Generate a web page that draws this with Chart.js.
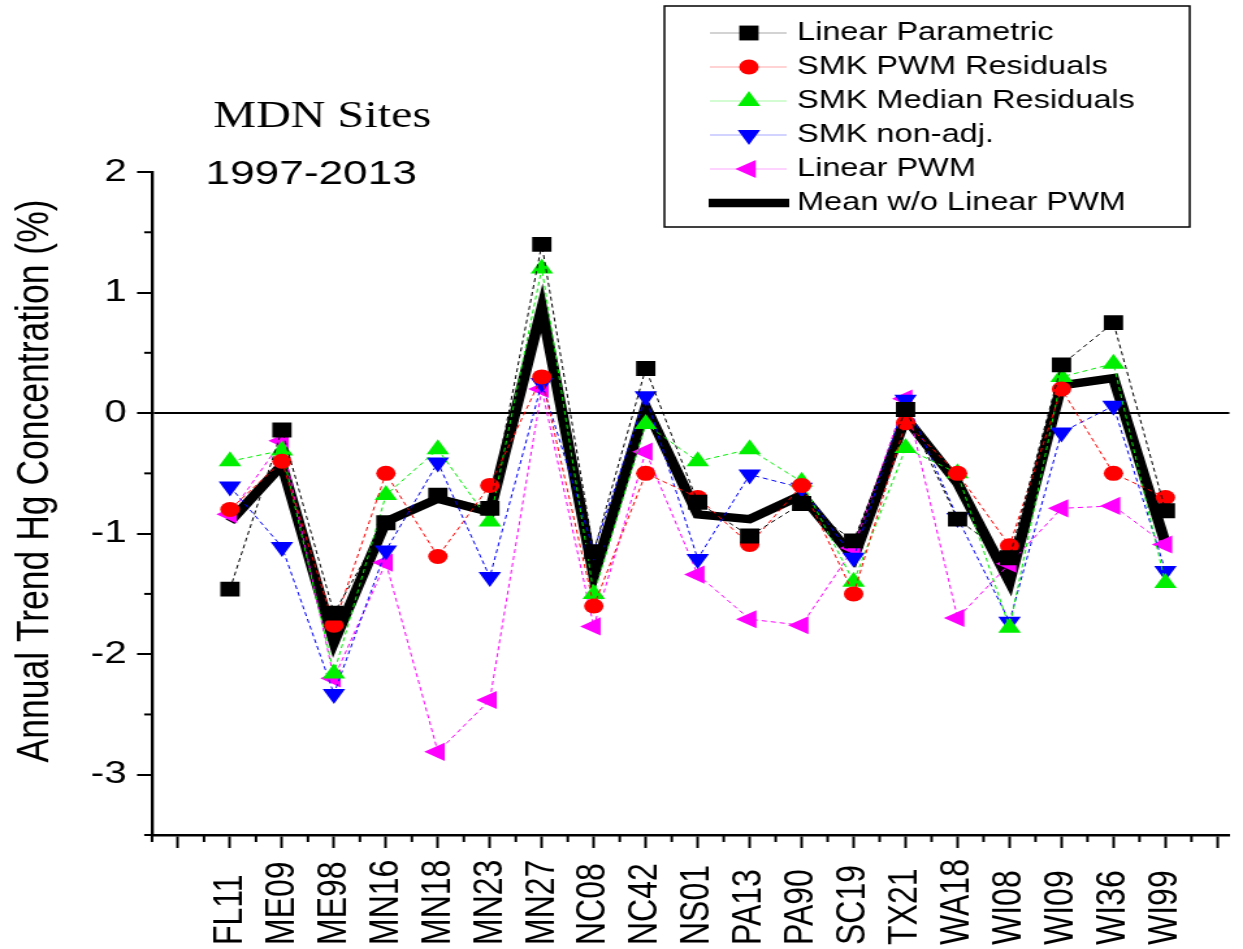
<!DOCTYPE html>
<html>
<head>
<meta charset="utf-8">
<title>MDN Sites 1997-2013</title>
<script src="https://cdn.jsdelivr.net/npm/chart.js@4.4.1/dist/chart.umd.min.js"></script>
<style>
  html, body { margin: 0; padding: 0; background: #fff; }
  #wrap { width: 1243px; height: 949px; overflow: hidden; }
</style>
</head>
<body>
<div id="wrap"><canvas id="chart" style="width:1243px;height:949px"></canvas></div>
<script>
// ===== DADOS =====
const sites = ['FL11', 'ME09', 'ME98', 'MN16', 'MN18', 'MN23', 'MN27', 'NC08', 'NC42', 'NS01',
               'PA13', 'PA90', 'SC19', 'TX21', 'WA18', 'WI08', 'WI09', 'WI36', 'WI99'];

const linearParametric   = [-1.46, -0.14, -1.66, -0.91, -0.68, -0.79, 1.40, -1.15, 0.37, -0.74,
                            -1.02, -0.75, -1.06, 0.03, -0.88, -1.20, 0.40, 0.75, -0.81];
const smkPwmResiduals    = [-0.80, -0.40, -1.76, -0.50, -1.19, -0.60, 0.30, -1.60, -0.50, -0.70,
                            -1.09, -0.60, -1.50, -0.08, -0.50, -1.10, 0.20, -0.50, -0.70];
const smkMedianResiduals = [-0.40, -0.31, -2.16, -0.68, -0.30, -0.90, 1.20, -1.50, -0.09, -0.40,
                            -0.30, -0.57, -1.40, -0.29, -0.50, -1.78, 0.30, 0.41, -1.41];
const smkNonAdj          = [-0.61, -1.11, -2.33, -1.14, -0.41, -1.36, 0.25, -1.14, 0.14, -1.21,
                            -0.51, -0.62, -1.20, 0.11, -0.87, -1.73, -0.16, 0.06, -1.31];
const linearPwm          = [-0.84, -0.23, -2.20, -1.24, -2.81, -2.38, 0.20, -1.77, -0.32, -1.34,
                            -1.71, -1.76, -1.12, 0.12, -1.70, -1.25, -0.79, -0.77, -1.09];
const meanWithoutPwm     = [-0.90, -0.43, -1.90, -0.90, -0.71, -0.82, 0.87, -1.35, 0.05, -0.84,
                            -0.88, -0.68, -1.20, -0.04, -0.58, -1.40, 0.23, 0.29, -1.08];

const yTickValues = [-3.5, -3, -2.5, -2, -1.5, -1, -0.5, 0, 0.5, 1, 1.5, 2];

// ===== LAYOUT =====
// a figura original está esticada na horizontal: desenha estreito e estica via CSS
const STRETCH = 1.3;
const W = 1243, H = 949;
const FONT = '"Liberation Sans", Arial, sans-serif';
const SERIF = '"Liberation Serif", "Times New Roman", serif';

const canvas = document.getElementById('chart');
canvas.width = Math.round(W / STRETCH);
canvas.height = H;

const xTickValues = [];
for (let v = -0.5; v <= sites.length + 1; v += 0.5) xTickValues.push(v);

const toPoints = arr => arr.map((v, i) => ({ x: i + 1, y: v }));

function thinSeries(label, data, color, style, rotation, radius) {
    return {
        label,
        data: toPoints(data),
        borderColor: color,
        backgroundColor: color,
        borderWidth: 1,
        borderDash: [4, 3],
        pointStyle: style,
        pointRotation: rotation,
        pointRadius: radius,
        pointBackgroundColor: color,
        pointBorderWidth: 0,
        tension: 0,
        order: 1
    };
}

const isMajor = v => Number.isInteger(v);

// ===== PLUGIN: ticks menores, rótulos, títulos e legenda =====
const decor = {
    id: 'decor',
    afterDraw(chart) {
        const { ctx, scales: { x, y } } = chart;
        ctx.save();

        // ticks menores
        ctx.strokeStyle = '#000';
        ctx.lineWidth = 2;
        x.ticks.forEach(t => {
            if (isMajor(t.value)) return;
            const px = x.getPixelForValue(t.value);
            ctx.beginPath(); ctx.moveTo(px, x.top); ctx.lineTo(px, x.top + 7); ctx.stroke();
        });
        y.ticks.forEach(t => {
            if (isMajor(t.value)) return;
            const py = y.getPixelForValue(t.value);
            ctx.beginPath(); ctx.moveTo(y.right - 6, py); ctx.lineTo(y.right, py); ctx.stroke();
        });

        // rótulos do eixo x (verticais, alinhados pela base)
        ctx.fillStyle = '#000';
        ctx.font = `32px ${FONT}`;
        ctx.textAlign = 'left';
        ctx.textBaseline = 'middle';
        sites.forEach((s, i) => {
            const px = x.getPixelForValue(i + 1);
            ctx.save();
            ctx.translate(px, 945);
            ctx.rotate(-Math.PI / 2);
            ctx.fillText(s, 0, 0);
            ctx.restore();
        });

        // título do eixo y
        ctx.save();
        ctx.font = `35.5px ${FONT}`;
        ctx.textAlign = 'center';
        ctx.translate(27, 481);
        ctx.rotate(-Math.PI / 2);
        ctx.fillText('Annual Trend Hg Concentration (%)', 0, 0);
        ctx.restore();

        // cabeçalho
        ctx.textAlign = 'left';
        ctx.textBaseline = 'alphabetic';
        ctx.font = `37px ${SERIF}`;
        ctx.fillText('MDN Sites', 164, 127);
        ctx.font = `34px ${FONT}`;
        ctx.fillText('1997-2013', 158, 184);

        // legenda
        ctx.lineWidth = 1.5;
        ctx.strokeRect(511, 6, 404, 221);
        ctx.font = `25px ${FONT}`;
        ctx.textBaseline = 'middle';
        chart.data.datasets.forEach((ds, i) => {
            const ly = 33 + i * 34;
            if (ds.pointRadius > 0) {
                ctx.save();
                ctx.globalAlpha = 0.35;
                ctx.strokeStyle = ds.borderColor;
                ctx.lineWidth = 1;
                ctx.beginPath(); ctx.moveTo(546, ly); ctx.lineTo(605, ly); ctx.stroke();
                ctx.restore();
                ctx.fillStyle = ds.pointBackgroundColor;
                Chart.helpers.drawPoint(ctx, {
                    pointStyle: ds.pointStyle, rotation: ds.pointRotation,
                    radius: ds.pointRadius, borderWidth: 0
                }, 576, ly);
            } else {
                ctx.strokeStyle = ds.borderColor;
                ctx.lineWidth = ds.borderWidth;
                ctx.beginPath(); ctx.moveTo(545, ly); ctx.lineTo(607, ly); ctx.stroke();
            }
            ctx.fillStyle = '#000';
            ctx.fillText(ds.label, 613, ly);
        });

        ctx.restore();
    }
};

// ===== GRÁFICO =====
new Chart(canvas, {
    type: 'line',
    data: {
        datasets: [
            thinSeries('Linear Parametric', linearParametric, '#000000', 'rect', 0, 10.5),
            thinSeries('SMK PWM Residuals', smkPwmResiduals, '#ff0000', 'circle', 0, 7.5),
            thinSeries('SMK Median Residuals', smkMedianResiduals, '#00ee00', 'triangle', 0, 10),
            thinSeries('SMK non-adj.', smkNonAdj, '#0000ff', 'triangle', 180, 10),
            thinSeries('Linear PWM', linearPwm, '#ff00ff', 'triangle', 270, 10.5),
            {
                label: 'Mean w/o Linear PWM',
                data: toPoints(meanWithoutPwm),
                borderColor: '#000000',
                backgroundColor: '#000000',
                borderWidth: 8.5,
                pointRadius: 0,
                tension: 0,
                order: 5
            }
        ]
    },
    options: {
        responsive: false,
        animation: false,
        devicePixelRatio: 1,
        layout: { padding: { top: 172, left: 0, right: 0, bottom: 0 } },
        plugins: {
            legend: { display: false },
            tooltip: { enabled: false },
            title: { display: false }
        },
        scales: {
            x: {
                type: 'linear',
                min: -0.5,
                max: 20.23,
                afterBuildTicks: s => { s.ticks = xTickValues.map(v => ({ value: v })); },
                afterFit: s => { s.height = H - 835; },
                ticks: { display: false },
                grid: {
                    drawOnChartArea: false,
                    drawTicks: true,
                    tickLength: 13,
                    tickWidth: 2,
                    tickColor: c => isMajor(c.tick.value) ? '#000' : 'rgba(0,0,0,0)'
                },
                border: { display: true, color: '#000', width: 2.5 }
            },
            y: {
                type: 'linear',
                min: -3.5,
                max: 2,
                afterBuildTicks: s => { s.ticks = yTickValues.map(v => ({ value: v })); },
                afterFit: s => { s.width = 152 / STRETCH; },
                ticks: {
                    color: '#000',
                    font: { family: FONT, size: 31 },
                    padding: 8,
                    callback: v => isMajor(v) ? String(v) : ''
                },
                grid: {
                    drawOnChartArea: true,
                    color: c => (c.tick && c.tick.value === 0) ? '#000' : 'rgba(0,0,0,0)',
                    lineWidth: 2,
                    drawTicks: true,
                    tickLength: 11.5,
                    tickWidth: 2,
                    tickColor: c => isMajor(c.tick.value) ? '#000' : 'rgba(0,0,0,0)'
                },
                border: { display: true, color: '#000', width: 2.3 }
            }
        }
    },
    plugins: [decor]
});
</script>
</body>
</html>
